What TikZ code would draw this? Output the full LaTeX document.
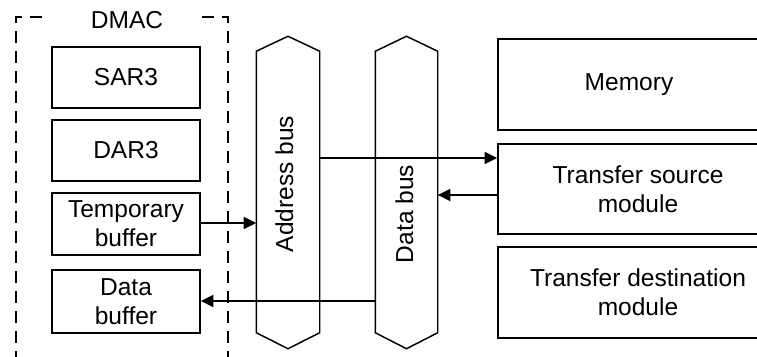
\documentclass[tikz,border=0pt]{standalone}
\usepackage{fontspec}
\setmainfont{Liberation Sans}
\usetikzlibrary{arrows.meta,calc}
\begin{document}
\begin{tikzpicture}[x=0.75pt,y=-0.75pt, line width=1.1pt,
  every node/.style={font=\fontsize{18.4}{21.8}\selectfont},
  box/.style={draw, inner sep=0pt, align=center},
  busbody/.style={inner sep=0pt, minimum height=210pt},
  arr/.style={-{Triangle[length=9.5pt,width=9pt]}, line width=1.1pt},
  dmac/.style={dash pattern=on 9pt off 6pt, line width=1pt}]
\useasboundingbox (0,0) rectangle (757,357);
\clip (0,0) rectangle (757,357);
% DMAC frame
\node (dmaclbl) at (127,20) {DMAC};
\draw[dmac] (42,17) -- (16,17) -- (16,365);
\draw[dmac] (202,17) -- (228,17) -- (228,365);
% DMAC boxes
\node[box, minimum width=111pt, minimum height=45.75pt] (sar) at (126,77.5) {SAR3};
\node[box, minimum width=111pt, minimum height=45.75pt] (dar) at (126,150.5) {DAR3};
\node[box, minimum width=111pt, minimum height=46.5pt] (tbuf) at (126,224) {Temporary\\buffer};
\node[box, minimum width=111pt, minimum height=47.25pt] (dbuf) at (126,301.5) {Data\\buffer};
% buses
\node[busbody, minimum width=46.5pt] (abus) at (288,192) {};
\node[busbody, minimum width=45.75pt] (dbus) at (406.5,192) {};
\draw (abus.north west) -- ($(abus.north)+(0,-15)$) -- (abus.north east) -- (abus.south east) -- ($(abus.south)+(0,16)$) -- (abus.south west) -- cycle;
\draw (dbus.north west) -- ($(dbus.north)+(0,-15)$) -- (dbus.north east) -- (dbus.south east) -- ($(dbus.south)+(0,16)$) -- (dbus.south west) -- cycle;
\node[rotate=90, anchor=base] (albl) at (293,184) {Address bus};
\node[rotate=90, anchor=base] (dlbl) at (413,214) {Data bus};
% right modules
\node[box, minimum width=196.5pt, minimum height=68.25pt] (mem) at (629,84.5) {Memory};
\node[box, minimum width=210pt, minimum height=67.5pt] (tsrc) at (638,189) {Transfer source\\module};
\node[box, minimum width=210pt, minimum height=68.25pt] (tdst) at (638,292.5) {Transfer destination\\module};
% connectors
\coordinate (ya) at (0,158);
\coordinate (yd) at (0,195);
\coordinate (yt) at (0,223);
\coordinate (yb) at (0,301);
\draw[arr] (abus.east |- ya) -- (tsrc.west |- ya);
\draw[arr] (tsrc.west |- yd) -- (dbus.east |- yd);
\draw[arr] (tbuf.east |- yt) -- (abus.west |- yt);
\draw[arr] (dbus.west |- yb) -- (dbuf.east |- yb);
\end{tikzpicture}
\end{document}
